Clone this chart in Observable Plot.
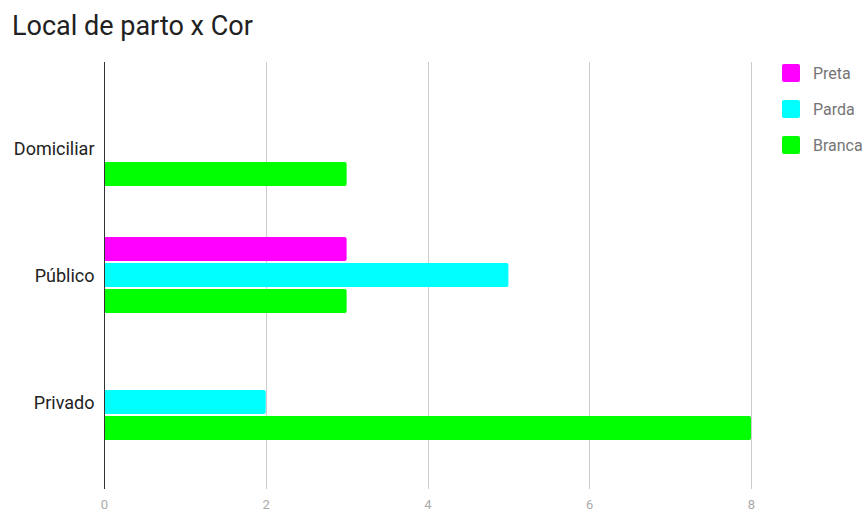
<!DOCTYPE html>
<html>
<head>
<meta charset="utf-8">
<script src="https://cdn.jsdelivr.net/npm/d3@7"></script>
<script src="https://cdn.jsdelivr.net/npm/@observablehq/plot@0.6"></script>
<style>
  body { margin: 0; background: #fff; font-family: Roboto, sans-serif; }
  #wrap { position: relative; width: 865px; height: 511px; overflow: hidden; }
  #title { position: absolute; left: 12px; top: 10px; font-size: 27px; color: #212121; }
  #legend { position: absolute; left: 782px; top: 64px; }
  .item { display: flex; align-items: center; height: 18px; margin-bottom: 18px; font-size: 16px; color: #757575; }
  .sw { width: 18px; height: 18px; border-radius: 2px; margin-right: 13px; }
</style>
</head>
<body>
<div id="wrap">
  <div id="chart"></div>
  <div id="title">Local de parto x Cor</div>
  <div id="legend"></div>
</div>
<script>
// Local de parto (categories) and counts per cor (series)
const locais = ["Domiciliar", "Público", "Privado"];
const cores = ["Preta", "Parda", "Branca"];
const preta = [0, 3, 0];
const parda = [0, 5, 2];
const branca = [3, 3, 8];
const palette = ["#ff00ff", "#00ffff", "#00ff00"];
const xTicks = [0, 2, 4, 6, 8];

const series = {Preta: preta, Parda: parda, Branca: branca};
const rows = locais.flatMap((local, i) =>
  cores.map(cor => ({local, cor, n: series[cor][i]}))
);

// extra space above the first and below the last category band
const outer = 23;

const chart = Plot.plot({
  width: 865,
  height: 511,
  marginTop: 62 + outer,
  marginBottom: 22 + outer,
  marginLeft: 104,
  marginRight: 114,
  style: {fontFamily: "Roboto, sans-serif", background: "white", overflow: "visible"},
  facet: {data: rows, y: "local"},
  fy: {domain: locais, padding: 0, label: null},
  x: {domain: [0, 8], label: null},
  y: {domain: cores, paddingInner: 0.074, paddingOuter: 0.889, axis: null},
  color: {domain: cores, range: palette},
  marks: [
    Plot.ruleX(xTicks.slice(1), {stroke: "#cccccc", insetTop: -outer, insetBottom: -outer, shapeRendering: "crispEdges"}),
    Plot.barX(rows, {filter: d => d.n > 0, x: "n", y: "cor", fill: "cor", rx: 2}),
    Plot.ruleX([0], {stroke: "#333333", insetTop: -outer, insetBottom: -outer, shapeRendering: "crispEdges"}),
    Plot.axisX({ticks: xTicks, tickSize: 0, tickPadding: 33, fontSize: 13, fill: "#aaaaaa", label: null}),
    Plot.axisFy({anchor: "left", tickSize: 0, tickPadding: 10, fontSize: 18, fill: "#222222", label: null})
  ]
});
document.getElementById("chart").append(chart);

// Legend
const legend = d3.select("#legend");
cores.forEach((c, i) => {
  const item = legend.append("div").attr("class", "item");
  item.append("div").attr("class", "sw").style("background", palette[i]);
  item.append("span").text(c);
});
</script>
</body>
</html>
